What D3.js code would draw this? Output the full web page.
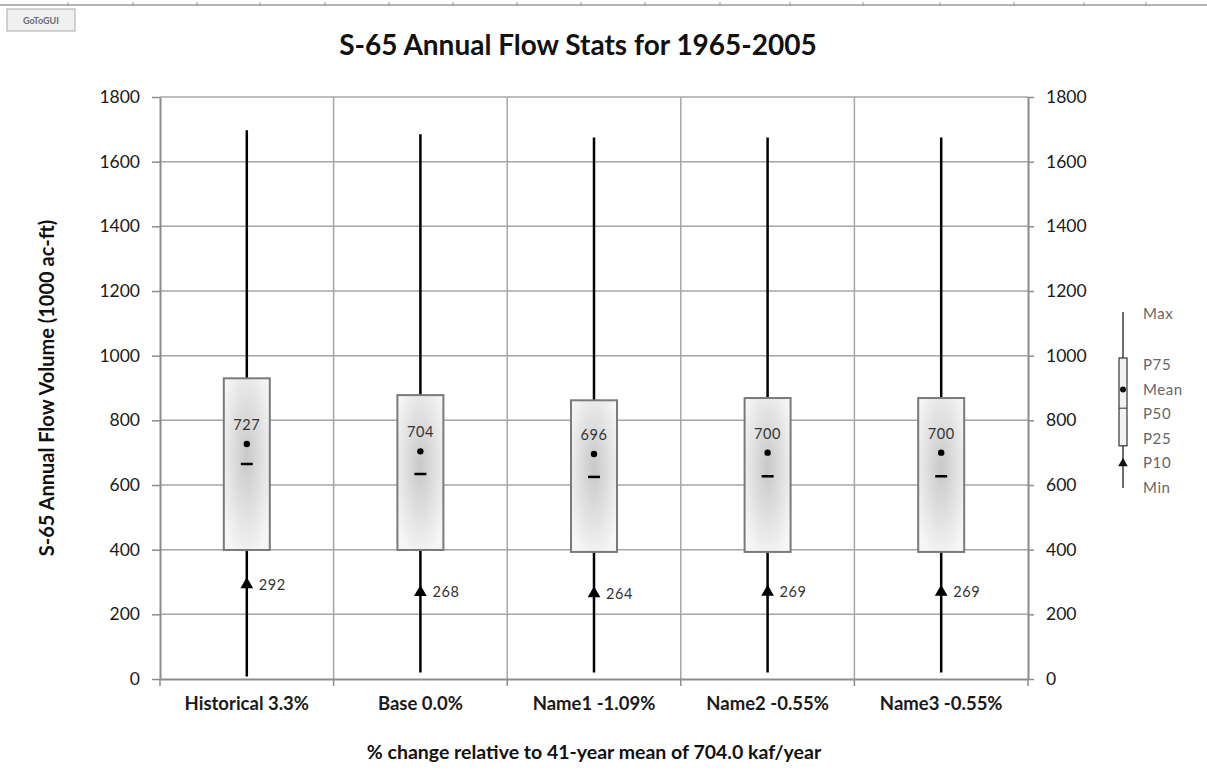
<!DOCTYPE html>
<html>
<head>
<meta charset="utf-8">
<script src="https://cdn.jsdelivr.net/npm/d3@7"></script>
<style>
  body { margin: 0; background: #fff; }
  svg { display: block; font-family: Lato, "Open Sans", sans-serif; }
</style>
</head>
<body>
<svg id="chart" width="1207" height="782"></svg>
<script>
// data
const categories = ["Historical 3.3%", "Base 0.0%", "Name1 -1.09%", "Name2 -0.55%", "Name3 -0.55%"];
const maxValues = [1697, 1685, 1675, 1675, 1675];
const p75Values = [930, 878, 862, 869, 869];
const meanValues = [727, 704, 696, 700, 700];
const p50Values = [665, 634, 625, 627, 627];
const p25Values = [399, 399, 393, 393, 393];
const p10Values = [292, 268, 264, 269, 269];
const minValues = [8, 20, 20, 20, 20];
const yTicks = [0, 200, 400, 600, 800, 1000, 1200, 1400, 1600, 1800];
const legendLabels = ["Max", "P75", "Mean", "P50", "P25", "P10", "Min"];
// worksheet column edges behind the chart
const sheetCols = [68, 133, 197, 260, 325, 389, 453, 517, 581, 645, 720, 790, 863, 940, 1014, 1084, 1146];

const rows = categories.map((c, i) => ({
  name: c,
  max: maxValues[i],
  p75: p75Values[i],
  mean: meanValues[i],
  p50: p50Values[i],
  p25: p25Values[i],
  p10: p10Values[i],
  min: minValues[i],
}));

const svg = d3.select("#chart");
const plot = { left: 160, right: 1028, top: 97, bottom: 679 };

const x = d3.scaleBand().domain(categories).range([plot.left, plot.right]);
const y = d3.scaleLinear().domain([0, 1800]).range([plot.bottom, plot.top]);

// sheet ruler at the very top
svg.append("line")
  .attr("x1", 0).attr("x2", 1207).attr("y1", 5).attr("y2", 5)
  .attr("stroke", "#b4b4b4").attr("stroke-width", 2);
svg.selectAll(".sheetcol").data(sheetCols).join("line")
  .attr("class", "sheetcol")
  .attr("x1", (d) => d).attr("x2", (d) => d)
  .attr("y1", 2).attr("y2", 6)
  .attr("stroke", "#999");

// GoToGUI button
const btn = svg.append("g").attr("transform", "translate(7,9)");
btn.append("rect").attr("width", 68).attr("height", 22)
  .attr("fill", "#f0f0f0").attr("stroke", "#a8a8a8");
btn.append("text").attr("x", 34).attr("y", 15).attr("text-anchor", "middle")
  .attr("font-size", 9).attr("font-weight", "bold").attr("fill", "#6a6a74")
  .text("GoToGUI");

// gradient for the boxes
const grad = svg.append("defs").append("radialGradient")
  .attr("id", "boxFill").attr("cx", "50%").attr("cy", "45%").attr("r", "62%");
grad.append("stop").attr("offset", "0%").attr("stop-color", "#c8c8c8");
grad.append("stop").attr("offset", "100%").attr("stop-color", "#f6f6f6");

// grid
svg.append("g").selectAll("line").data(yTicks.slice(1)).join("line")
  .attr("x1", plot.left).attr("x2", plot.right)
  .attr("y1", (d) => y(d)).attr("y2", (d) => y(d))
  .attr("stroke", "#a6a6a6").attr("stroke-width", 1.5);
svg.append("g").selectAll("line").data(categories.slice(1)).join("line")
  .attr("x1", (d) => x(d)).attr("x2", (d) => x(d))
  .attr("y1", plot.top).attr("y2", plot.bottom)
  .attr("stroke", "#a6a6a6").attr("stroke-width", 1.5);

// axes
const styleAxis = (g) => {
  g.attr("font-family", null);
  g.select(".domain").attr("stroke", "#8c8c8c").attr("stroke-width", 2);
  g.selectAll(".tick line").attr("stroke", "#8c8c8c").attr("stroke-width", 1.5);
  g.selectAll(".tick text").attr("fill", "#1a1a1a").attr("font-size", 17.5);
};

svg.append("g").attr("transform", `translate(${plot.left},0)`)
  .call(d3.axisLeft(y).tickValues(yTicks).tickFormat(d3.format("d"))
    .tickSize(8).tickPadding(12).tickSizeOuter(0))
  .call(styleAxis);
svg.append("g").attr("transform", `translate(${plot.right},0)`)
  .call(d3.axisRight(y).tickValues(yTicks).tickFormat(d3.format("d"))
    .tickSize(6).tickPadding(12).tickSizeOuter(0))
  .call(styleAxis);

const xAxis = svg.append("g").attr("transform", `translate(0,${plot.bottom})`)
  .call(d3.axisBottom(x).tickSize(0).tickPadding(18).tickSizeOuter(0))
  .call(styleAxis);
xAxis.selectAll(".tick text").attr("font-weight", "bold").attr("font-size", 18.5);
// tick marks on the band edges
xAxis.selectAll(".edge").data(categories.concat(["end"])).join("line")
  .attr("class", "edge")
  .attr("x1", (d) => (d === "end" ? plot.right : x(d)))
  .attr("x2", (d) => (d === "end" ? plot.right : x(d)))
  .attr("y1", 0).attr("y2", 7)
  .attr("stroke", "#8c8c8c").attr("stroke-width", 1.5);

// box plots
const boxW = 46;
const g = svg.append("g").selectAll("g").data(rows).join("g")
  .attr("transform", (d) => `translate(${x(d.name) + x.bandwidth() / 2},0)`);

g.append("line")
  .attr("y1", (d) => y(d.min)).attr("y2", (d) => y(d.max))
  .attr("stroke", "#000").attr("stroke-width", 2.5);

g.append("rect")
  .attr("x", -boxW / 2).attr("width", boxW)
  .attr("y", (d) => y(d.p75)).attr("height", (d) => y(d.p25) - y(d.p75))
  .attr("fill", "url(#boxFill)").attr("stroke", "#7a7a7a").attr("stroke-width", 2);

g.append("line")
  .attr("x1", -6).attr("x2", 6)
  .attr("y1", (d) => y(d.p50)).attr("y2", (d) => y(d.p50))
  .attr("stroke", "#000").attr("stroke-width", 2.5);

g.append("circle")
  .attr("cy", (d) => y(d.mean)).attr("r", 3.2).attr("fill", "#000");

g.append("text")
  .attr("y", (d) => y(d.mean) - 14)
  .attr("text-anchor", "middle").attr("font-size", 14.5).attr("fill", "#333")
  .attr("letter-spacing", 0.6)
  .text((d) => d.mean);

g.append("path")
  .attr("d", d3.symbol(d3.symbolTriangle, 70))
  .attr("transform", (d) => `translate(0,${y(d.p10)})`)
  .attr("fill", "#000");

g.append("text")
  .attr("x", 12).attr("y", (d) => y(d.p10) + 5)
  .attr("font-size", 14.5).attr("fill", "#333").attr("letter-spacing", 0.6)
  .text((d) => d.p10);

// titles
svg.append("text").attr("x", 578).attr("y", 55).attr("text-anchor", "middle")
  .attr("font-size", 28).attr("font-weight", "bold").attr("fill", "#111")
  .text("S-65 Annual Flow Stats for 1965-2005");
svg.append("text").attr("x", 594).attr("y", 759).attr("text-anchor", "middle")
  .attr("font-size", 19.5).attr("font-weight", "bold").attr("fill", "#111")
  .text("% change relative to 41-year mean of 704.0 kaf/year");
svg.append("text")
  .attr("transform", `translate(54,${(plot.top + plot.bottom) / 2}) rotate(-90)`)
  .attr("text-anchor", "middle")
  .attr("font-size", 20).attr("font-weight", "bold").attr("fill", "#111")
  .text("S-65 Annual Flow Volume (1000 ac-ft)");

// legend: Max sits apart, the rest are evenly spaced
const ly = d3.scalePoint().domain(legendLabels.slice(1)).range([365, 488]);
const legY = (k) => (k === "Max" ? ly("P75") - 51 : ly(k));
const lg = svg.append("g").attr("transform", "translate(1123,0)");
lg.append("line").attr("y1", legY("Max") - 2).attr("y2", legY("Min"))
  .attr("stroke", "#6e6e6e").attr("stroke-width", 2);
lg.append("rect").attr("x", -4).attr("width", 8)
  .attr("y", legY("P75") - 7).attr("height", legY("P25") + 7 - (legY("P75") - 7))
  .attr("fill", "#f2f2f2").attr("stroke", "#333").attr("stroke-width", 1.2);
lg.append("line").attr("x1", -4).attr("x2", 4)
  .attr("y1", legY("P50") - 6).attr("y2", legY("P50") - 6)
  .attr("stroke", "#333");
lg.append("circle").attr("cy", legY("Mean")).attr("r", 3).attr("fill", "#111");
lg.append("path").attr("d", d3.symbol(d3.symbolTriangle, 40))
  .attr("transform", `translate(0,${legY("P10")})`).attr("fill", "#111");
lg.selectAll("text").data(legendLabels).join("text")
  .attr("x", 20).attr("y", (d) => legY(d) + 5)
  .attr("font-size", 15).attr("fill", "#666").attr("letter-spacing", 0.6)
  .text((d) => d);
</script>
</body>
</html>
